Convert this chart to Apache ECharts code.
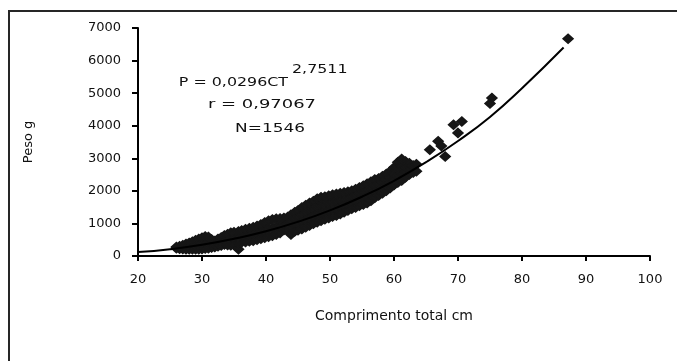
<!DOCTYPE html>
<html>
<head>
<meta charset="utf-8">
<script src="https://cdn.jsdelivr.net/npm/echarts@6/dist/echarts.min.js"></script>
<style>
  html, body { margin: 0; padding: 0; background: #fff; overflow: hidden; }
  #frame { position: absolute; left: 8px; top: 10px; width: 720px; height: 420px; border: 2px solid #262626; box-sizing: border-box; }
  #chart { position: absolute; left: 0; top: 0; width: 677px; height: 361px; }
</style>
</head>
<body>
<div id="frame"></div>
<div id="chart"></div>
<script>
const xTicks = { min: 20, max: 100, step: 10 };
const yTicks = { min: 0, max: 7000, step: 1000 };

// dense band, grouped by length (cm) -> weights (g)
const bandLength = [
  26.0, 26.5, 27.0, 27.5, 28.0, 28.5, 29.0, 29.5, 30.0, 30.5,
  31.0, 31.5, 32.0, 32.5, 33.0, 33.5, 34.0, 34.5, 35.0, 35.7,
  36.2, 36.8, 37.4, 38.0, 38.6, 39.2, 39.8, 40.4, 41.0, 41.6,
  42.2, 42.8, 43.4, 43.9, 44.5, 45.0, 45.6, 46.2, 46.8, 47.4,
  48.0, 48.6, 49.2, 49.8, 50.4, 51.0, 51.6, 52.2, 52.8, 53.4,
  54.0, 54.6, 55.2, 55.8, 56.4, 57.0, 57.6, 58.2, 58.8, 59.4,
  60.0, 60.6, 61.2, 61.8, 62.4, 63.0, 63.5
];
const bandWeight = [
  [240, 275], [220, 300], [215, 270, 330], [210, 290, 370], [205, 300, 400],
  [210, 320, 440], [205, 340, 480], [210, 360, 520], [215, 380, 560], [230, 410, 600],
  [240, 420, 580], [260, 390, 510], [280, 370, 460], [300, 410, 520], [320, 450, 570],
  [350, 490, 630], [340, 500, 670], [330, 520, 710], [360, 540, 730], [205, 400, 580, 750],
  [420, 600, 780], [430, 620, 820], [450, 650, 850], [470, 680, 880], [500, 710, 920],
  [530, 750, 970], [560, 790, 1030], [590, 830, 1080], [620, 870, 1120], [660, 900, 1140],
  [710, 930, 1150], [800, 980, 1170], [780, 990, 1200], [660, 860, 1060, 1270], [760, 960, 1150, 1340],
  [790, 1000, 1200, 1400], [830, 1050, 1270, 1490], [880, 1100, 1330, 1560], [940, 1170, 1400, 1630], [990, 1220, 1450, 1680],
  [1040, 1280, 1520, 1760], [1080, 1320, 1560, 1800], [1130, 1360, 1590, 1820], [1170, 1400, 1620, 1850], [1210, 1430, 1660, 1880],
  [1240, 1460, 1680, 1900], [1290, 1500, 1720, 1930], [1340, 1540, 1750, 1950], [1400, 1590, 1780, 1970], [1450, 1630, 1820, 2000],
  [1490, 1680, 1870, 2050], [1540, 1730, 1920, 2100], [1580, 1780, 1970, 2160], [1630, 1830, 2020, 2220], [1700, 1890, 2090, 2280],
  [1790, 1980, 2170, 2350], [1860, 2040, 2210, 2380], [1930, 2100, 2280, 2450], [2000, 2170, 2350, 2520], [2090, 2250, 2420, 2600],
  [2180, 2360, 2540, 2720], [2260, 2460, 2670, 2880], [2320, 2540, 2760, 2980], [2420, 2580, 2740, 2900], [2500, 2680, 2850],
  [2560, 2780], [2600, 2820]
];

// big fish, scattered above the band
const outlierLength = [65.6, 66.9, 67.4, 68.0, 69.3, 70.0, 70.6, 75.0, 75.3, 87.2];
const outlierWeight = [3260, 3520, 3380, 3055, 4030, 3780, 4130, 4680, 4850, 6670];

// fitted power curve as drawn
const trendLength = [20, 25, 30, 35, 40, 45, 50, 55, 60, 65, 70, 75, 80, 86.5];
const trendWeight = [120, 210, 345, 530, 760, 1050, 1400, 1820, 2310, 2880, 3530, 4270, 5150, 6400];

const points = [];
bandLength.forEach((len, i) => bandWeight[i].forEach(w => points.push([len, w])));
outlierLength.forEach((len, i) => points.push([len, outlierWeight[i]]));
const trend = trendLength.map((len, i) => [len, trendWeight[i]]);

const FONT = "DejaVu Sans";
const INK = "#111";

// the scan's lettering is wide and short, so stretch the annotation text
function note(text, x, y, align, stretch) {
  return {
    type: "text", x, y, scaleX: stretch,
    style: { text, font: `13px "${FONT}"`, fill: INK, align, verticalAlign: "middle" }
  };
}

const chart = echarts.init(document.getElementById("chart"), null, { renderer: "canvas" });
chart.setOption({
  backgroundColor: "transparent",
  animation: false,
  grid: { left: 138, right: 27, top: 28, bottom: 105, containLabel: false },
  xAxis: {
    type: "value",
    min: xTicks.min, max: xTicks.max, interval: xTicks.step,
    name: "Comprimento total cm",
    nameLocation: "middle",
    nameGap: 53,
    nameTextStyle: { color: INK, fontFamily: FONT, fontSize: 14 },
    axisLine: { lineStyle: { color: "#000", width: 2 } },
    axisTick: { length: 5, lineStyle: { color: "#000", width: 2 } },
    axisLabel: { color: INK, fontFamily: FONT, fontSize: 13, margin: 17 },
    splitLine: { show: false }
  },
  yAxis: {
    type: "value",
    min: yTicks.min, max: yTicks.max, interval: yTicks.step,
    name: "Peso g",
    nameLocation: "middle",
    nameGap: 103,
    nameTextStyle: { color: INK, fontFamily: FONT, fontSize: 13 },
    axisLine: { show: true, lineStyle: { color: "#000", width: 2 } },
    axisTick: { show: true, length: 6, lineStyle: { color: "#000", width: 2 } },
    axisLabel: { color: INK, fontFamily: FONT, fontSize: 13, margin: 17, formatter: v => String(v) },
    splitLine: { show: false }
  },
  series: [
    {
      type: "scatter",
      data: points,
      symbol: "diamond",
      symbolSize: [10, 9],
      itemStyle: { color: "#161616", borderColor: "#161616", borderWidth: 1.5, opacity: 1 },
      z: 2
    },
    {
      type: "line",
      data: trend,
      smooth: true,
      showSymbol: false,
      lineStyle: { color: "#000", width: 2 },
      z: 3
    }
  ],
  graphic: [
    note("P = 0,0296CT", 288, 83, "right", 1.22),
    note("2,7511", 292, 70, "left", 1.22),
    note("r = 0,97067", 262, 105, "center", 1.38),
    note("N=1546", 270, 129, "center", 1.3)
  ]
});
</script>
</body>
</html>
